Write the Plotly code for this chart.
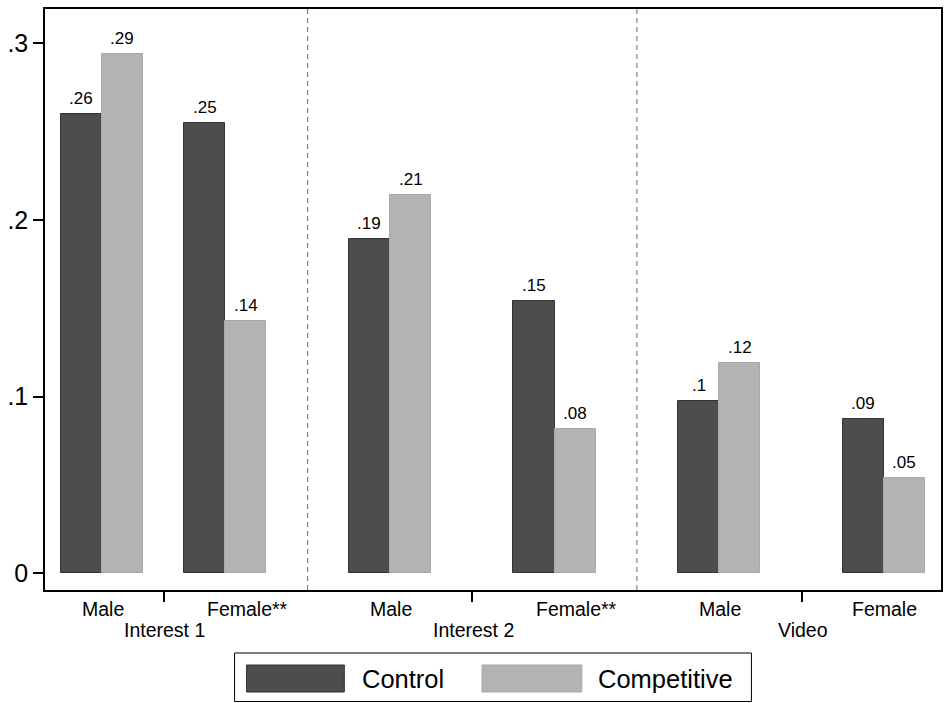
import plotly.graph_objects as go

# ---- data ----
groups = ["Interest 1", "Interest 2", "Video"]
sexes = [["Male", "Female**"], ["Male", "Female**"], ["Male", "Female"]]
series_names = ["Control", "Competitive"]
control = [0.260, 0.2547, 0.1894, 0.1542, 0.0978, 0.0872]
competitive = [0.294, 0.1429, 0.2143, 0.0818, 0.1193, 0.0538]
y_tickvals = [0, 0.1, 0.2, 0.3]
y_ticktext = ["0", ".1", ".2", ".3"]

# ---- layout parameters ----
W, H = 947, 703
ML, MR, MT, MB = 45, 4, 9, 113
pos = [0.25, 1, 2, 3, 4, 5]          # centre of each pair of bars
bw = 0.25                            # width of a single bar
col_ctrl, col_comp = "#4d4d4d", "#b3b3b3"
line_ctrl, line_comp = "#333333", "#a8a8a8"
FONT = "Liberation Sans, Arial, Helvetica, sans-serif"

def fmt(v):
    s = f"{round(v, 2):.2f}".rstrip("0").rstrip(".")
    return s[1:] if s.startswith("0.") else s

fig = go.Figure()
fig.add_bar(x=[p - bw / 2 for p in pos], y=control, width=bw, name=series_names[0],
            marker=dict(color=col_ctrl, line=dict(color=line_ctrl, width=1)))
fig.add_bar(x=[p + bw / 2 for p in pos], y=competitive, width=bw, name=series_names[1],
            marker=dict(color=col_comp, line=dict(color=line_comp, width=1)))

ann = []
for vals, off in ((control, -bw / 2), (competitive, bw / 2)):
    for p, v in zip(pos, vals):
        ann.append(dict(x=p + off, y=v, text=fmt(v), showarrow=False, yanchor="bottom",
                        yshift=4, font=dict(size=17, color="black", family=FONT)))

# category labels under the axis
tick_centres = []
for gi, g in enumerate(groups):
    p1, p2 = pos[2 * gi], pos[2 * gi + 1]
    tick_centres.append((p1 + p2) / 2)
    for p, lab in zip((p1, p2), sexes[gi]):
        ann.append(dict(x=p, y=0, yref="paper", text=lab, showarrow=False, yanchor="top",
                        xanchor="center", yshift=-6, xshift=(22 if lab.endswith("**") else 1),
                        font=dict(size=19.5, color="black", family=FONT)))
    ann.append(dict(x=(p1 + p2) / 2, y=0, yref="paper", text=g, showarrow=False, yanchor="top",
                    yshift=-27, xshift=1, font=dict(size=19.5, color="black", family=FONT)))

shapes = []
# dashed separators between groups
for gi in range(len(groups) - 1):
    xsep = (pos[2 * gi + 1] + pos[2 * gi + 2]) / 2
    shapes.append(dict(type="line", xref="x", yref="paper", x0=xsep, x1=xsep, y0=0, y1=1,
                       line=dict(color="#666666", width=1, dash="5px,4px")))

# custom legend (pixel -> paper helpers)
pw, ph = W - ML - MR, H - MT - MB
px = lambda x: (x - ML) / pw
py = lambda y: (H - MB - y) / ph
shapes.append(dict(type="rect", xref="paper", yref="paper", x0=px(235), x1=px(753),
                   y0=py(701.5), y1=py(653), line=dict(color="black", width=1),
                   fillcolor="white"))
legend_items = [(series_names[0], col_ctrl, line_ctrl, 247, 345, 361),
                (series_names[1], col_comp, line_comp, 483, 583, 597)]
for name, fc, lc, x0, x1, tx in legend_items:
    shapes.append(dict(type="rect", xref="paper", yref="paper", x0=px(x0), x1=px(x1),
                       y0=py(692), y1=py(665), line=dict(color=lc, width=1), fillcolor=fc))
    ann.append(dict(x=px(tx), y=py(678.5), xref="paper", yref="paper", text=name,
                    showarrow=False, xanchor="left", yanchor="middle",
                    font=dict(size=25.5, color="black", family=FONT)))

fig.update_layout(
    width=W, height=H, margin=dict(l=ML, r=MR, t=MT, b=MB, pad=0),
    paper_bgcolor="white", plot_bgcolor="white", showlegend=False,
    barmode="overlay", bargap=0,
    font=dict(family=FONT, color="black"),
    annotations=ann, shapes=shapes,
    xaxis=dict(range=[-0.0952, 5.347], showgrid=False, zeroline=False,
               showline=True, mirror=True, linecolor="black", linewidth=1.5,
               tickmode="array", tickvals=tick_centres, ticktext=["", "", ""],
               ticks="outside", ticklen=10, tickwidth=1.5, tickcolor="black"),
    yaxis=dict(range=[-0.00944, 0.3194], showgrid=False, zeroline=False,
               showline=True, mirror=True, linecolor="black", linewidth=1.5,
               tickmode="array", tickvals=y_tickvals, ticktext=y_ticktext,
               ticks="outside", ticklen=10, tickwidth=1.5, tickcolor="black",
               tickfont=dict(size=25, color="black", family=FONT)),
)

fig.write_html("out.html")
